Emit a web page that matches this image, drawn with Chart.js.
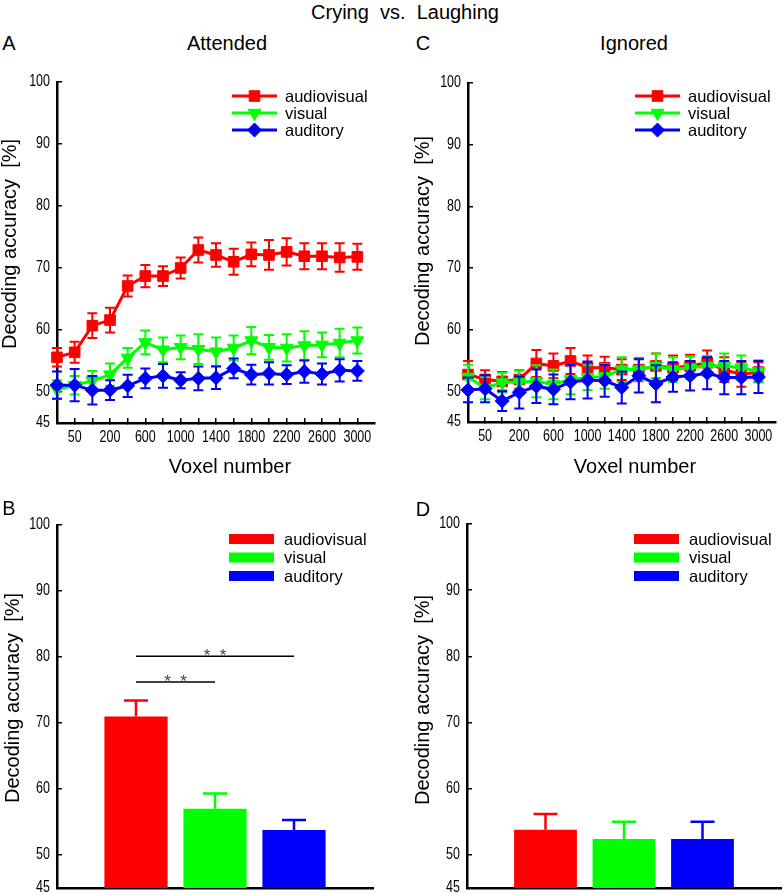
<!DOCTYPE html>
<html>
<head>
<meta charset="utf-8">
<script src="https://cdn.jsdelivr.net/npm/chart.js@4.4.0/dist/chart.umd.min.js"></script>
<style>
  body { margin: 0; background: #fff; }
  #fig { position: relative; width: 784px; height: 894px; overflow: hidden; font-family: 'Liberation Sans', Arial, sans-serif; color: #000; }
  .panel { position: absolute; }
  .txt { position: absolute; white-space: pre; line-height: 1; font-size: 20px; transform: translate(-50%, -50%); }
  .rot { transform: translate(-50%, -50%) rotate(-90deg); }
</style>
</head>
<body>
<div id="fig">
  <div class="panel" style="left:0;top:60px"><canvas id="chartA" width="392" height="420"></canvas></div>
  <div class="panel" style="left:392px;top:60px"><canvas id="chartC" width="392" height="420"></canvas></div>
  <div class="panel" style="left:0;top:490px"><canvas id="chartB" width="392" height="404"></canvas></div>
  <div class="panel" style="left:392px;top:490px"><canvas id="chartD" width="392" height="404"></canvas></div>

  <div class="txt" style="left:405px;top:12px">Crying  vs.  Laughing</div>
  <div class="txt" style="left:9px;top:43px">A</div>
  <div class="txt" style="left:227px;top:43px">Attended</div>
  <div class="txt" style="left:423px;top:43px">C</div>
  <div class="txt" style="left:634px;top:43px">Ignored</div>
  <div class="txt" style="left:9px;top:508px">B</div>
  <div class="txt" style="left:423px;top:509px">D</div>
  <div class="txt rot" style="left:9px;top:244px">Decoding accuracy  [%]</div>
  <div class="txt rot" style="left:422px;top:241px">Decoding accuracy  [%]</div>
  <div class="txt rot" style="left:12px;top:698px">Decoding accuracy  [%]</div>
  <div class="txt rot" style="left:422px;top:700px">Decoding accuracy  [%]</div>
  <div class="txt" style="left:230px;top:466px">Voxel number</div>
  <div class="txt" style="left:635px;top:466px">Voxel number</div>
</div>

<script>
// 데이터
const voxels = [20, 50, 100, 200, 400, 600, 800, 1000, 1200, 1400, 1600, 1800, 2000, 2200, 2400, 2600, 2800, 3000];
const conditions = ['audiovisual', 'visual', 'auditory'];
const yTicks = [45, 50, 60, 70, 80, 90, 100];

// Attended (A)
const attAV = [55.6, 56.4, 60.7, 61.6, 67.1, 68.7, 68.7, 70.0, 72.9, 72.1, 71.0, 72.2, 72.1, 72.6, 71.9, 71.9, 71.7, 71.8];
const attAVErr = [1.5, 1.7, 2.0, 2.0, 1.7, 1.8, 1.6, 1.7, 2.0, 1.9, 2.1, 1.9, 2.4, 2.2, 2.1, 2.1, 2.3, 2.1];
const attVis = [50.4, 51.1, 51.8, 52.8, 55.5, 58.0, 56.8, 57.2, 56.9, 56.5, 57.1, 58.3, 57.2, 57.1, 57.5, 57.6, 57.9, 58.3];
const attVisErr = [1.5, 1.5, 1.6, 1.8, 1.6, 1.9, 2.0, 1.9, 2.4, 2.3, 2.0, 2.2, 2.0, 2.2, 2.3, 2.0, 2.3, 2.1];
const attAud = [51.1, 51.1, 50.3, 50.3, 51.0, 52.2, 52.6, 51.9, 52.2, 52.3, 53.8, 52.8, 53.0, 52.8, 53.3, 52.9, 53.5, 53.4];
const attAudErr = [2.2, 2.6, 2.3, 1.6, 1.8, 1.6, 1.9, 1.3, 1.9, 1.8, 1.6, 1.6, 1.8, 1.5, 1.8, 1.7, 1.8, 1.6];

// Ignored (C)
const ignAV = [52.7, 51.9, 51.6, 51.9, 54.5, 54.1, 54.9, 53.8, 53.8, 53.5, 53.5, 54.1, 53.8, 54.1, 54.6, 53.5, 52.7, 53.1];
const ignAVErr = [2.2, 1.5, 1.5, 1.5, 2.2, 2.0, 2.1, 2.0, 1.8, 1.7, 1.9, 2.0, 2.0, 1.8, 2.0, 2.0, 2.0, 1.6];
const ignVis = [52.3, 50.5, 51.4, 51.5, 51.6, 51.1, 51.9, 52.2, 52.4, 53.5, 53.5, 54.1, 53.5, 53.8, 54.1, 54.1, 53.8, 53.2];
const ignVisErr = [2.0, 1.8, 1.6, 1.8, 2.6, 2.4, 2.4, 2.0, 2.0, 2.0, 1.8, 2.0, 2.0, 1.8, 1.6, 2.0, 2.0, 1.8];
const ignAud = [50.2, 50.4, 48.4, 49.8, 50.8, 50.3, 51.5, 51.8, 51.7, 50.6, 52.5, 51.2, 52.3, 52.5, 52.9, 52.2, 52.2, 52.3];
const ignAudErr = [2.0, 2.2, 1.6, 2.6, 2.7, 2.4, 2.8, 3.0, 2.6, 2.6, 2.7, 3.0, 2.4, 2.4, 2.6, 2.7, 2.7, 2.6];

// 평균 막대 (B, D)
const attMean = [71.0, 57.0, 53.8];
const attMeanErr = [2.4, 2.3, 1.5];
const ignMean = [53.8, 52.4, 52.4];
const ignMeanErr = [2.4, 2.6, 2.6];

// 유의성 표시 (B): audiovisual vs visual / auditory
const sigFrom = [0, 0];
const sigTo = [1, 2];
const sigLevel = [76.2, 80.1];
const sigText = ['*  *', '*  *'];

// 스타일
const COLORS = ['#ff0000', '#00ff00', '#0000ff'];
const MARKERS = [
  { pointStyle: 'rect', radius: 7.5, rotation: 0 },
  { pointStyle: 'triangle', radius: 7.5, rotation: 180 },
  { pointStyle: 'rectRot', radius: 7, rotation: 0 },
];
const SANS = "'Liberation Sans', Arial, sans-serif";

// 에러바: 각 데이터셋 그린 직후
const errorBars = {
  id: 'errorBars',
  afterDatasetDraw(chart, args, opts) {
    const ds = chart.data.datasets[args.index];
    if (!ds.errors) return;
    const y = chart.scales.y;
    const ctx = chart.ctx;
    ctx.save();
    ctx.lineWidth = opts.width || 2;
    args.meta.data.forEach((el, i) => {
      const v = ds.data[i];
      const e = ds.errors[i];
      if (v == null || e == null) return;
      ctx.strokeStyle = Array.isArray(ds.errColor) ? ds.errColor[i] : ds.errColor;
      const top = y.getPixelForValue(v + e);
      const bot = opts.upOnly ? y.getPixelForValue(v) : y.getPixelForValue(v - e);
      const cap = opts.cap || 5;
      ctx.beginPath();
      ctx.moveTo(el.x, top);
      ctx.lineTo(el.x, bot);
      ctx.moveTo(el.x - cap, top);
      ctx.lineTo(el.x + cap, top);
      if (!opts.upOnly) {
        ctx.moveTo(el.x - cap, bot);
        ctx.lineTo(el.x + cap, bot);
      }
      ctx.stroke();
    });
    ctx.restore();
  },
};

// 눈금 글자: 좁은 글꼴이 없어서 가로로 눌러서 그림
const narrowTicks = {
  id: 'narrowTicks',
  afterDraw(chart, args, o) {
    const { ctx } = chart;
    const sq = 0.78;
    ctx.save();
    ctx.font = `16px ${SANS}`;
    ctx.fillStyle = '#000';
    ctx.textBaseline = 'middle';

    const y = chart.scales.y;
    ctx.textAlign = 'right';
    y.ticks.forEach((t, i) => {
      ctx.save();
      ctx.translate(y.right - 7, y.getPixelForTick(i));
      ctx.scale(sq, 1);
      ctx.fillText(String(t.value), 0, 0);
      ctx.restore();
    });

    if (o.xLabels) {
      const x = chart.scales.x;
      ctx.textAlign = 'center';
      x.ticks.forEach((t, i) => {
        if (i % 2 !== 1 || i >= voxels.length) return;
        ctx.save();
        ctx.translate(x.getPixelForTick(i), x.top + 15);
        ctx.scale(sq, 1);
        ctx.fillText(String(voxels[i]), 0, 0);
        ctx.restore();
      });
    }
    ctx.restore();
  },
};

// 차트 영역 안쪽 범례
const insideLegend = {
  id: 'insideLegend',
  afterDraw(chart, args, o) {
    if (!o.kind) return;
    const { ctx, chartArea } = chart;
    ctx.save();
    ctx.font = `16.5px ${SANS}`;
    ctx.textBaseline = 'middle';
    conditions.forEach((name, k) => {
      const x = chartArea.left + o.x;
      const y = chartArea.top + o.y + k * o.dy;
      ctx.fillStyle = COLORS[k];
      ctx.strokeStyle = COLORS[k];
      if (o.kind === 'line') {
        ctx.lineWidth = 3;
        ctx.beginPath();
        ctx.moveTo(x, y);
        ctx.lineTo(x + 45, y);
        ctx.stroke();
        ctx.lineWidth = 1;
        Chart.helpers.drawPoint(ctx, { ...MARKERS[k], borderWidth: 1 }, x + 22.5, y);
      } else {
        ctx.fillRect(x, y - 5, 45, 10);
      }
      ctx.fillStyle = '#000';
      ctx.fillText(name, chartArea.left + o.textX, y + 1);
    });
    ctx.restore();
  },
};

// 유의성 막대
const sigLines = {
  id: 'sigLines',
  afterDraw(chart, args, o) {
    if (!o.show) return;
    const { ctx, scales: { x, y } } = chart;
    ctx.save();
    sigFrom.forEach((from, i) => {
      const x1 = x.getPixelForValue(from + 1);
      const x2 = x.getPixelForValue(sigTo[i] + 1);
      const yy = y.getPixelForValue(sigLevel[i]);
      ctx.strokeStyle = '#000';
      ctx.lineWidth = 1.5;
      ctx.beginPath();
      ctx.moveTo(x1, yy);
      ctx.lineTo(x2, yy);
      ctx.stroke();
      ctx.fillStyle = '#444';
      ctx.font = `17px ${SANS}`;
      ctx.textAlign = 'center';
      ctx.textBaseline = 'alphabetic';
      ctx.fillText(sigText[i], (x1 + x2) / 2, yy + 5);
    });
    ctx.restore();
  },
};

function yScale(width) {
  return {
    type: 'linear',
    min: 45,
    max: 100,
    afterBuildTicks: (s) => { s.ticks = yTicks.map((v) => ({ value: v })); },
    afterFit: (s) => { s.width = width; },
    grid: { drawOnChartArea: false, tickLength: -5, color: '#000', lineWidth: 1.5 },
    border: { color: '#000', width: 2.5 },
    ticks: { display: false },
  };
}

function lineChart(id, series, errs, geo) {
  return new Chart(document.getElementById(id), {
    type: 'line',
    data: {
      labels: voxels.map(String).concat(['']),
      datasets: series.map((vals, k) => ({
        label: conditions[k],
        data: vals,
        errors: errs[k],
        errColor: COLORS[k],
        borderColor: COLORS[k],
        backgroundColor: COLORS[k],
        borderWidth: 3,
        pointStyle: MARKERS[k].pointStyle,
        pointRadius: MARKERS[k].radius,
        pointRotation: MARKERS[k].rotation,
        pointBorderWidth: 1,
        tension: 0,
        order: 2 - k,
      })),
    },
    options: {
      responsive: false,
      animation: false,
      layout: { padding: { top: geo.top, right: geo.right, left: 0, bottom: 0 } },
      plugins: {
        legend: { display: false },
        tooltip: { enabled: false },
        errorBars: { width: 2, cap: 5 },
        narrowTicks: { xLabels: true },
        insideLegend: { kind: 'line', x: geo.legX, textX: geo.legX + 53, y: geo.legY, dy: 17 },
      },
      scales: {
        x: {
          type: 'category',
          offset: false,
          afterFit: (s) => { s.height = geo.xh; },
          grid: {
            drawOnChartArea: false,
            tickLength: -5,
            lineWidth: 1.5,
            color: (c) => (c.index > 0 && c.index < voxels.length ? '#000' : 'rgba(0,0,0,0)'),
          },
          border: { color: '#000', width: 2.5 },
          ticks: { display: false, autoSkip: false },
        },
        y: yScale(geo.yw),
      },
    },
    plugins: [errorBars, narrowTicks, insideLegend],
  });
}

function barChart(id, means, errs, geo, showSig) {
  return new Chart(document.getElementById(id), {
    type: 'bar',
    data: {
      labels: [''].concat(conditions, ['']),
      datasets: [{
        data: [null, ...means, null],
        errors: [null, ...errs, null],
        errColor: [null, ...COLORS, null],
        backgroundColor: [null, ...COLORS, null],
        borderWidth: 0,
        barPercentage: 0.8,
        categoryPercentage: 1,
      }],
    },
    options: {
      responsive: false,
      animation: false,
      layout: { padding: { top: geo.top, right: geo.right, left: 0, bottom: 0 } },
      plugins: {
        legend: { display: false },
        tooltip: { enabled: false },
        errorBars: { width: 2.5, cap: 12, upOnly: true },
        narrowTicks: { xLabels: false },
        insideLegend: { kind: 'bar', x: geo.legX, textX: geo.legX + 55, y: geo.legY, dy: 18.5 },
        sigLines: { show: showSig },
      },
      scales: {
        x: {
          type: 'category',
          offset: false,
          afterFit: (s) => { s.height = geo.xh; },
          grid: { display: false },
          border: { color: '#000', width: 2.5 },
          ticks: { display: false },
        },
        y: yScale(geo.yw),
      },
    },
    plugins: [errorBars, narrowTicks, insideLegend, sigLines],
  });
}

lineChart('chartA', [attAV, attVis, attAud], [attAVErr, attVisErr, attAudErr],
  { top: 22, right: 17, xh: 57, yw: 57, legX: 175, legY: 14 });
lineChart('chartC', [ignAV, ignVis, ignAud], [ignAVErr, ignVisErr, ignAudErr],
  { top: 23, right: 1, xh: 58, yw: 76, legX: 167, legY: 13 });
barChart('chartB', attMean, attMeanErr,
  { top: 35, right: 19, xh: 6, yw: 57, legX: 172, legY: 14 }, true);
barChart('chartD', ignMean, ignMeanErr,
  { top: 34, right: 3, xh: 6, yw: 75, legX: 167, legY: 15 }, false);
</script>
</body>
</html>
